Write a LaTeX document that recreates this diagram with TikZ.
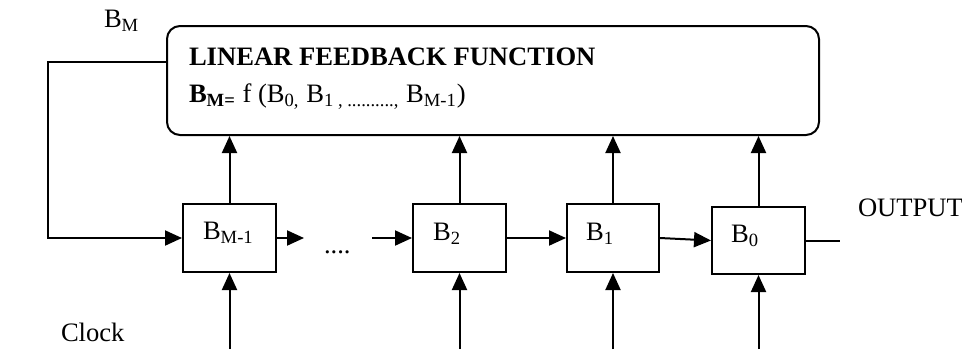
\documentclass[tikz,border=0pt]{standalone}
\usepackage{fontspec}
\setmainfont{Liberation Serif}
\usetikzlibrary{arrows.meta}
\usetikzlibrary{positioning}
\tikzset{->/.style = {-{Triangle[length=8.5pt, width=7.5pt]}}}
\tikzset{reg/.style = {draw, rectangle, inner sep = 0, minimum width = 46.5pt, minimum height = 34pt}}
\tikzset{txt/.style = {anchor = base west, inner sep = 0}}

\begin{document}
\begin{tikzpicture}[x=0.5pt, y=-0.5pt, line width=1pt, font=\fontsize{13.3}{15}\selectfont]
    \useasboundingbox (0, 0) rectangle (962, 349);
    \node [draw, rounded corners=6.5pt, minimum width=326pt, minimum height=54.5pt] (lff) at (493, 80.5) {};
    \node [txt, font=\fontsize{13.3}{15}\selectfont\bfseries] (title) at (188, 65) {LINEAR FEEDBACK FUNCTION};
    \node [txt] (func) at (188, 102) {\textbf{B\textsubscript{M=}} f (B\textsubscript{0,} B\textsubscript{1 , ..........,} B\textsubscript{M-1})};

    \node [reg] (bm1) at (229.5, 238) {};
    \node [reg] (b2) at (459.5, 238) {};
    \node [reg, minimum width=46pt] (b1) at (613, 238) {};
    \node [reg, minimum height=33.5pt] (b0) at (758.5, 240.5) {};

    \node [txt] (lm1) at (202, 239) {B\textsubscript{M-1}};
    \node [txt] (l2) at (432, 240) {B\textsubscript{2}};
    \node [txt] (l1) at (585, 240) {B\textsubscript{1}};
    \node [txt] (l0) at (730, 242) {B\textsubscript{0}};
    \node [txt] (bm) at (103, 27) {B\textsubscript{M}};
    \node [txt] (clock) at (60, 341) {Clock};
    \node [txt] (out) at (857, 216) {OUTPUT};
    \node [txt] (dots) at (323, 253) {....};

    \coordinate (fb) at (48, 62);
    \coordinate (sh1) at (304, 238);
    \coordinate (sh2) at (372, 238);
    \coordinate (outend) at (840, 240.5);
    \coordinate (clk) at (0, 349);

    \draw [->] (lff.west |- fb) -- (fb) |- (bm1.west);
    \draw [->] (bm1.east) -- (sh1);
    \draw [->] (sh2) -- (b2.west);
    \draw [->] (b2.east) -- (b1.west);
    \draw [->] (b1.east) -- (b0.west);
    \draw (b0.east) -- (outend);
    \foreach \r in {bm1, b2, b1, b0} {
      \draw [->] (\r.north) -- (\r.north |- lff.south);
      \draw [->] (\r.south |- clk) -- (\r.south);
    }
\end{tikzpicture}
\end{document}
